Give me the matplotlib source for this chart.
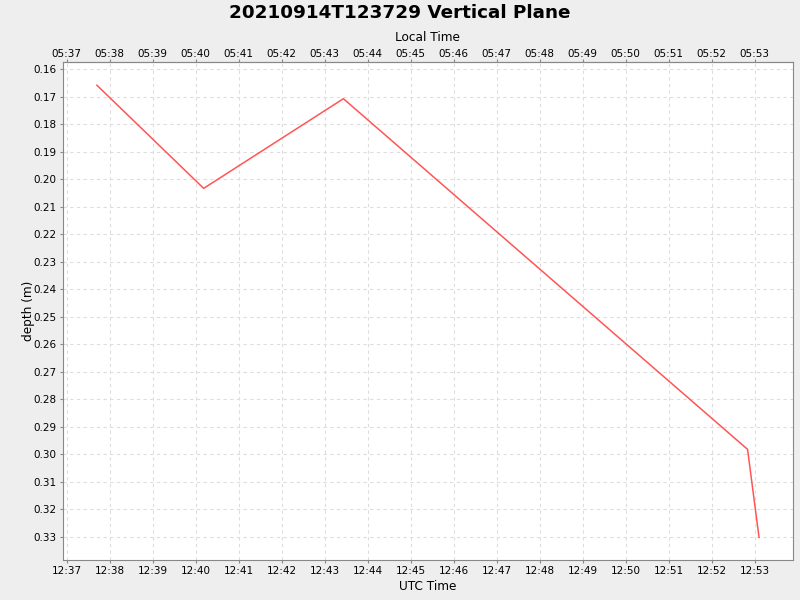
import matplotlib
matplotlib.use('Agg')
import matplotlib.pyplot as plt
import matplotlib.dates as mdates
from datetime import datetime

# depth samples (UTC)
times = ["2021-09-14 12:37:42", "2021-09-14 12:40:11", "2021-09-14 12:43:26",
         "2021-09-14 12:52:50", "2021-09-14 12:53:06"]
depths = [0.1658, 0.2033, 0.1707, 0.2982, 0.3302]
utc_offset_hours = -7

t = [datetime.strptime(s, "%Y-%m-%d %H:%M:%S") for s in times]

fig = plt.figure(figsize=(8, 6), dpi=100, facecolor='#eeeeee')
ax = fig.add_axes([62.5 / 800, 40 / 600, 730.2 / 800, 498 / 600])
ax.set_facecolor('white')

ax.plot(t, depths, color='#ff5555', linewidth=1.1)

ax.set_xlim(datetime(2021, 9, 14, 12, 36, 54), datetime(2021, 9, 14, 12, 53, 53))
ax.set_ylim(0.33844, 0.15735)
ax.set_yticks([0.16 + 0.01 * i for i in range(18)])
ax.yaxis.set_major_formatter(plt.FuncFormatter(lambda v, p: f"{v:.2f}"))
ax.xaxis.set_major_locator(mdates.MinuteLocator())
ax.xaxis.set_major_formatter(mdates.DateFormatter('%H:%M'))

ax.grid(True, color='#dddddd', linestyle=(0, (3, 3)), linewidth=0.8)
for s in ax.spines.values():
    s.set_color('#888888')
ax.tick_params(labelsize=7.5, color='#888888', length=2, width=0.8, pad=2.5)

# top axis shows local time
off = utc_offset_hours / 24
top = ax.secondary_xaxis('top', functions=(lambda x: x + off, lambda x: x - off))
top.xaxis.set_major_locator(mdates.MinuteLocator())
top.xaxis.set_major_formatter(mdates.DateFormatter('%H:%M'))
top.tick_params(labelsize=7.5, color='#888888', length=2, width=0.8, pad=0)
top.spines['top'].set_color('#888888')
top.set_xlabel('Local Time', fontsize=8.7, labelpad=6)

ax.set_xlabel('UTC Time', fontsize=8.7, labelpad=2.5)
ax.set_ylabel('depth (m)', fontsize=8.7, labelpad=-1)
fig.suptitle('20210914T123729 Vertical Plane', fontsize=13.2, fontweight='bold', y=0.993)

fig.savefig('out.png', dpi=100, facecolor=fig.get_facecolor())
